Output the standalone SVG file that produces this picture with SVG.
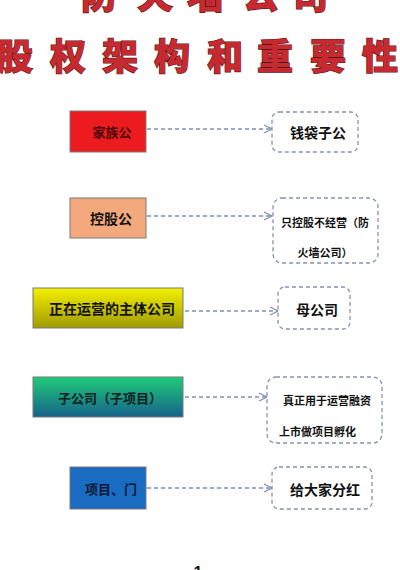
<svg xmlns="http://www.w3.org/2000/svg" width="400" height="570" viewBox="0 0 400 570">
<style>
.title{font-family:"Noto Sans CJK SC","Noto Sans",sans-serif;font-weight:900;font-size:36px;fill:#c62a30;stroke:#5a1414;stroke-width:1.2;paint-order:stroke;text-anchor:middle}
.lbl{font-family:"Noto Sans CJK SC","Noto Sans",sans-serif;font-weight:bold;font-size:14px;fill:#111;text-anchor:middle;dominant-baseline:central}
.sm{font-size:11px}
.src{stroke:#7a7a7a;stroke-width:1}
.dbox{fill:#fff;stroke:#8592ad;stroke-width:1.3;stroke-dasharray:4 3}
.conn{stroke:#7f8fb8;stroke-width:1.3;stroke-dasharray:4 3;fill:none}
</style>
<defs>
<marker id="arr" markerWidth="10" markerHeight="10" refX="9" refY="5" orient="auto" markerUnits="userSpaceOnUse">
<path d="M1,1 L9,5 L1,9" fill="none" stroke="#7f8fb8" stroke-width="1.2"/>
</marker>
<linearGradient id="gy" x1="0" y1="0" x2="0" y2="1">
<stop offset="0" stop-color="#f4f000"/><stop offset="1" stop-color="#a09a00"/>
</linearGradient>
<linearGradient id="gg" x1="0" y1="0" x2="0" y2="1">
<stop offset="0" stop-color="#1fcb78"/><stop offset="1" stop-color="#16628a"/>
</linearGradient>
</defs>
<rect width="400" height="570" fill="#fff"/>
<g id="title">
<text class="title" x="99 155 205 261 310" y="9">防火墙公司</text>
<text class="title" x="15 68 120 172 225 275 328 380" y="70">股权架构和重要性</text>
</g>
<g id="connectors">
<line class="conn" x1="147" y1="129" x2="272" y2="129" marker-end="url(#arr)"/>
<line class="conn" x1="147" y1="216" x2="272" y2="216" marker-end="url(#arr)"/>
<line class="conn" x1="185" y1="311" x2="278" y2="311" marker-end="url(#arr)"/>
<line class="conn" x1="185" y1="397" x2="267" y2="397" marker-end="url(#arr)"/>
<line class="conn" x1="147" y1="488" x2="272" y2="488" marker-end="url(#arr)"/>
</g>
<g id="n1"><rect class="src" x="70" y="111" width="76" height="41" fill="#ec1b1f"/><text class="lbl" x="112" y="131" style="fill:#4a0808;font-size:13px">家族公</text></g>
<g id="n1r"><rect class="dbox" x="272" y="112" width="86" height="40" rx="7"/><text class="lbl" x="318" y="132">钱袋子公</text></g>
<g id="n2"><rect class="src" x="70" y="198" width="76" height="40" fill="#f4a97d"/><text class="lbl" x="111" y="218">控股公</text></g>
<g id="n2r"><rect class="dbox" x="273" y="198" width="105" height="65" rx="9"/><text class="lbl sm" x="325" y="222">只控股不经营（防</text><text class="lbl sm" x="325" y="252">火墙公司）</text></g>
<g id="n3"><rect class="src" x="33" y="288" width="150" height="40" fill="url(#gy)" stroke="#666"/><text class="lbl" x="112" y="308">正在运营的主体公司</text></g>
<g id="n3r"><rect class="dbox" x="278" y="287" width="72" height="42" rx="7"/><text class="lbl" x="317" y="309">母公司</text></g>
<g id="n4"><rect class="src" x="33" y="377" width="150" height="40" fill="url(#gg)"/><text class="lbl" x="110" y="397" style="font-size:13px;fill:#0c2020">子公司（子项目）</text></g>
<g id="n4r"><rect class="dbox" x="267" y="377" width="115" height="66" rx="9"/><text class="lbl sm" x="327" y="400">真正用于运营融资</text><text class="lbl sm" x="279" y="431" style="text-anchor:start">上市做项目孵化</text></g>
<g id="n5"><rect class="src" x="70" y="467" width="76" height="42" fill="#1a6cc2"/><text class="lbl" x="111" y="488" style="font-size:13px;fill:#0a1834">项目、门</text></g>
<g id="n5r"><rect class="dbox" x="272" y="467" width="100" height="42" rx="7"/><text class="lbl" x="325" y="489">给大家分红</text></g>
<text x="198" y="578" style="font-family:'Liberation Sans',sans-serif;font-weight:bold;font-size:16px;fill:#111;text-anchor:middle">1</text>
</svg>
